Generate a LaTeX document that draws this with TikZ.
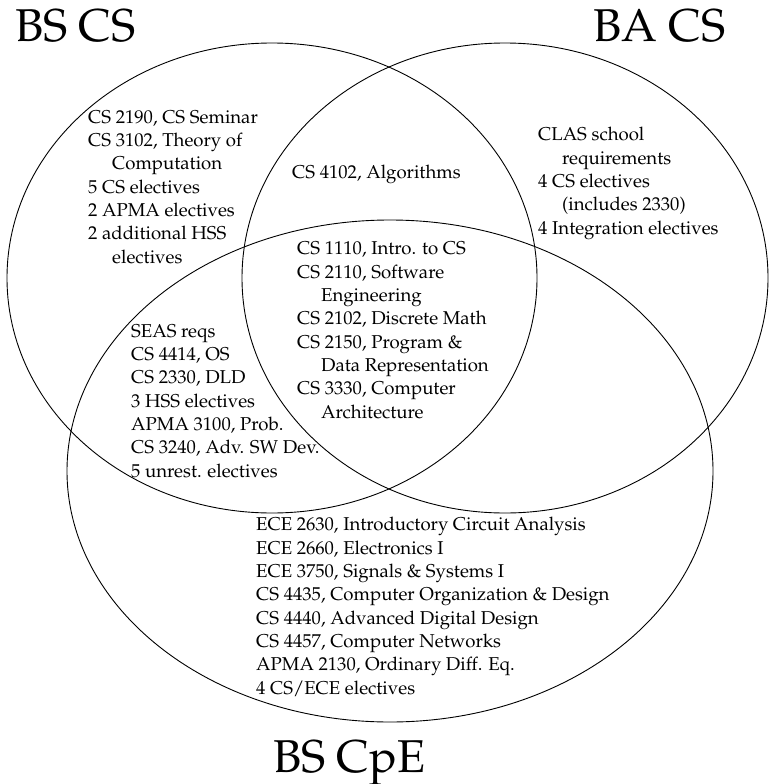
\documentclass[tikz,border=0pt]{standalone}
\usepackage[T1]{fontenc}
\renewcommand{\rmdefault}{ppl}
\begin{document}
\begin{tikzpicture}[x=1pt,y=-1pt,
  ring/.style={draw=black,line width=0.9pt},
  body/.style={anchor=base west,inner sep=0pt,align=left,font=\fontsize{18.6}{23.3}\selectfont},
  title/.style={anchor=base west,inner sep=0pt,font=\fontsize{46}{50}\selectfont}]
\useasboundingbox (0,0) rectangle (769,784);
\draw[ring] (272,278) ellipse [x radius=265, y radius=235];
\draw[ring] (505,278) ellipse [x radius=263, y radius=235];
\draw[ring] (390,471) ellipse [x radius=323, y radius=251];
\node[title] (tbscs) at (15,42) {BS CS};
\node[title] (tbacs) at (593,42) {BA CS};
\node[title] (tbscpe) at (273,772) {BS CpE};
\newcommand{\ind}{\hspace*{24pt}}
% base anchor = baseline of the last line
\node[body] (onlybscs) at (88,263) {CS 2190, CS Seminar\\CS 3102, Theory of\\\ind Computation\\5 CS electives\\2 APMA electives\\2 additional HSS\\\ind electives};
\node[body] (bscsba) at (292,178) {CS 4102, Algorithms};
\node[body] (onlyba) at (538,234) {CLAS school\\\ind requirements\\4 CS electives\\\ind (includes 2330)\\4 Integration electives};
\node[body] (allthree) at (297,418) {CS 1110, Intro. to CS\\CS 2110, Software\\\ind Engineering\\CS 2102, Discrete Math\\CS 2150, Program \&\\\ind Data Representation\\CS 3330, Computer\\\ind Architecture};
\node[body] (bscscpe) at (131,477) {SEAS reqs\\CS 4414, OS\\CS 2330, DLD\\3 HSS electives\\APMA 3100, Prob.\\CS 3240, Adv. SW Dev.\\5 unrest. electives};
\node[body] (onlycpe) at (256,694) {ECE 2630, Introductory Circuit Analysis\\ECE 2660, Electronics I\\ECE 3750, Signals \& Systems I\\CS 4435, Computer Organization \& Design\\CS 4440, Advanced Digital Design\\CS 4457, Computer Networks\\APMA 2130, Ordinary Diff. Eq.\\4 CS/ECE electives};
\end{tikzpicture}
\end{document}
